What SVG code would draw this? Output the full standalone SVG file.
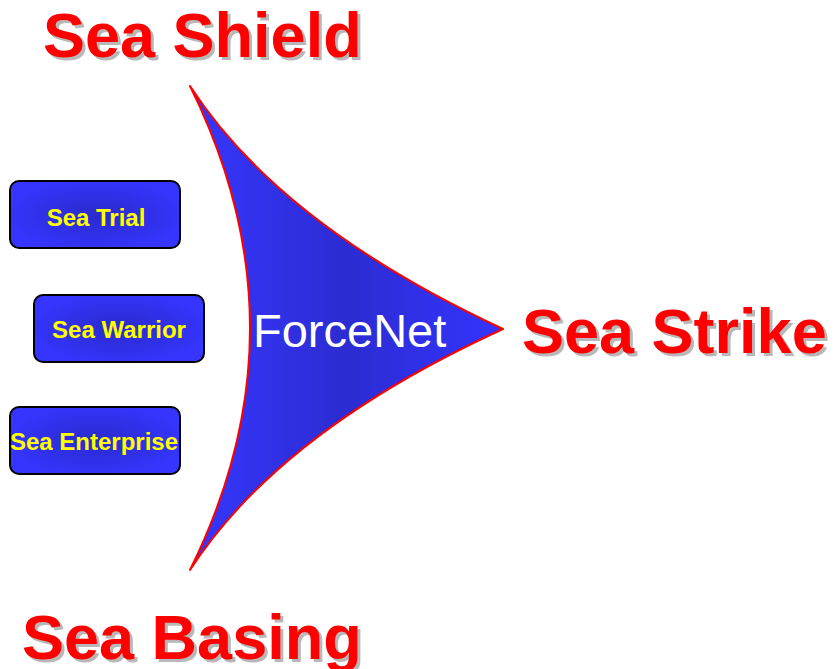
<svg xmlns="http://www.w3.org/2000/svg" width="834" height="669" viewBox="0 0 834 669">
<defs>
<radialGradient id="boxg" cx="50%" cy="50%" r="55%">
<stop offset="0" stop-color="#2a2acc"/>
<stop offset="1" stop-color="#3535ff"/>
</radialGradient>
<linearGradient id="shapeg" x1="190" y1="0" x2="503" y2="0" gradientUnits="userSpaceOnUse">
<stop offset="0" stop-color="#3636ff"/>
<stop offset="0.5" stop-color="#2c2cd2"/>
<stop offset="1" stop-color="#3434ff"/>
</linearGradient>
</defs>
<style>
.title{font-family:"Liberation Sans",Arial,sans-serif;font-weight:bold;font-size:63px;fill:#ff0000}
.shadow{font-family:"Liberation Sans",Arial,sans-serif;font-weight:bold;font-size:63px;fill:#b8b8b8}
.box{fill:url(#boxg);stroke:#000;stroke-width:2}
.lbl{font-family:"Liberation Sans",Arial,sans-serif;font-weight:bold;font-size:24px;fill:#ffff00;text-anchor:middle}
</style>
<g id="forcenet">
<path d="M190,86 Q280,225 503,329 Q280,431 190,570 Q310,328 190,86 Z" fill="url(#shapeg)" stroke="#ff0000" stroke-width="2" stroke-linejoin="round"/>
<text x="253" y="347" font-family="Liberation Sans,Arial,sans-serif" font-size="47" fill="#ffffff">ForceNet</text>
</g>
<g id="sea-shield">
<text class="shadow" x="46" y="60">Sea Shield</text>
<text class="title" x="43" y="57">Sea Shield</text>
</g>
<g id="sea-strike">
<text class="shadow" x="525" y="356">Sea Strike</text>
<text class="title" x="522" y="353">Sea Strike</text>
</g>
<g id="sea-basing">
<text class="shadow" x="25" y="662">Sea Basing</text>
<text class="title" x="22" y="659">Sea Basing</text>
</g>
<g id="sea-trial">
<rect class="box" x="10" y="181" width="170" height="67" rx="9"/>
<text class="lbl" x="96" y="226">Sea Trial</text>
</g>
<g id="sea-warrior">
<rect class="box" x="34" y="295" width="170" height="67" rx="9"/>
<text class="lbl" x="119" y="338">Sea Warrior</text>
</g>
<g id="sea-enterprise">
<rect class="box" x="10" y="407" width="170" height="67" rx="9"/>
<text class="lbl" x="94" y="450">Sea Enterprise</text>
</g>
<g id="connectors"/>
</svg>
